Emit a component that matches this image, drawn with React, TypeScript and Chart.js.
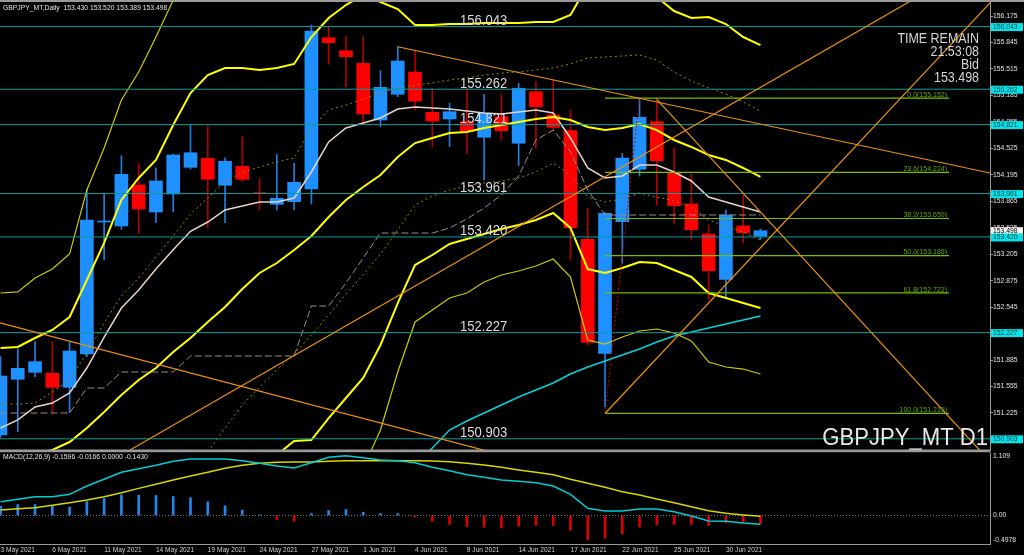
import React, { useEffect, useRef } from "react";
import { Chart, registerables } from "chart.js";

Chart.register(...registerables);

const FONT = "'Liberation Sans', Arial, Helvetica, sans-serif";

// ---------- texts ----------
const SYMBOL_TITLE = "GBPJPY_MT,Daily  153.430 153.520 153.389 153.498";
const MACD_TITLE = "MACD(12,26,9) -0.1596 -0.0166 0.0000 -0.1430";
const WATERMARK = "GBPJPY_MT D1";
const INFO_LINES = ["TIME REMAIN", "21:53:08", "Bid", "153.498"];
const BID = 153.498;

// ---------- categories ----------
const DATE_INDEX = [0, 3, 6, 9, 12, 15, 18, 21, 24, 27, 30, 33, 36, 39, 42];
const DATE_LABELS = [
  "3 May 2021", "6 May 2021", "11 May 2021", "14 May 2021", "19 May 2021",
  "24 May 2021", "27 May 2021", "1 Jun 2021", "4 Jun 2021", "9 Jun 2021",
  "14 Jun 2021", "17 Jun 2021", "22 Jun 2021", "25 Jun 2021", "30 Jun 2021",
];

// ---------- candles ----------
const OPEN = [150.951, 151.645, 151.732, 151.720, 151.545, 151.961, 153.606, 153.557, 154.068, 153.731, 153.956, 154.288, 154.401, 154.064, 154.301, 153.968, 153.827, 153.860, 154.018, 155.904, 155.742, 155.585, 154.878, 155.199, 155.477, 154.974, 154.891, 154.857, 154.663, 154.919, 154.588, 155.231, 154.941, 154.745, 153.391, 151.969, 153.610, 154.264, 154.857, 154.221, 153.831, 153.457, 152.892, 153.557, 153.430];
const HIGH = [151.927, 152.023, 152.114, 152.114, 152.106, 154.018, 153.956, 154.433, 154.342, 154.280, 154.454, 154.825, 154.803, 154.408, 154.670, 154.143, 154.451, 154.338, 156.063, 156.042, 155.917, 155.917, 155.493, 155.792, 155.751, 155.274, 155.086, 155.274, 155.199, 155.202, 155.336, 155.356, 155.377, 155.003, 153.777, 153.730, 154.463, 155.152, 155.136, 154.525, 154.205, 153.569, 153.756, 153.943, 153.520];
const LOW = [150.920, 150.992, 151.677, 151.229, 151.229, 151.927, 153.133, 153.515, 153.457, 153.598, 153.731, 154.267, 153.528, 153.598, 154.109, 153.756, 153.756, 153.756, 153.831, 155.573, 155.293, 154.837, 154.795, 155.169, 155.003, 154.545, 154.545, 154.463, 154.130, 154.629, 154.308, 154.525, 154.753, 153.133, 152.073, 151.300, 153.091, 154.180, 153.818, 153.581, 153.382, 152.634, 152.655, 153.345, 153.389];
const CLOSE = [151.686, 151.782, 151.865, 151.545, 151.998, 153.631, 153.619, 154.201, 153.769, 154.118, 154.442, 154.470, 154.139, 154.363, 154.139, 153.960, 153.902, 154.101, 155.988, 155.842, 155.668, 154.953, 155.286, 155.614, 155.115, 154.866, 154.982, 154.732, 154.962, 154.745, 155.274, 155.044, 154.787, 153.535, 152.106, 153.715, 154.404, 154.912, 154.371, 153.810, 153.510, 152.999, 153.694, 153.473, 153.498];

// ---------- indicators ----------
const MA_FAST = [151.038, 151.138, 151.300, 151.349, 151.474, 151.786, 152.172, 152.534, 152.758, 153.020, 153.260, 153.490, 153.606, 153.756, 153.806, 153.856, 153.856, 153.906, 154.230, 154.604, 154.778, 154.841, 154.903, 155.015, 155.040, 155.028, 155.015, 154.990, 154.965, 154.953, 154.978, 155.003, 154.965, 154.654, 154.280, 154.155, 154.180, 154.317, 154.317, 154.230, 154.118, 153.918, 153.856, 153.793, 153.731];
const BB_MID = [150.664, 150.689, 150.714, 150.764, 150.863, 151.038, 151.237, 151.449, 151.636, 151.786, 151.985, 152.160, 152.360, 152.547, 152.771, 152.971, 153.095, 153.257, 153.432, 153.669, 153.881, 154.043, 154.192, 154.417, 154.591, 154.654, 154.716, 154.729, 154.778, 154.816, 154.853, 154.891, 154.916, 154.878, 154.791, 154.753, 154.778, 154.828, 154.753, 154.629, 154.542, 154.442, 154.380, 154.280, 154.168];
const BB_UP2 = [152.035, 152.048, 152.160, 152.260, 152.422, 152.883, 153.345, 153.881, 154.155, 154.380, 154.816, 155.215, 155.439, 155.527, 155.527, 155.502, 155.527, 155.577, 155.913, 156.150, 156.312, 156.437, 156.350, 156.262, 156.063, 156.063, 156.075, 156.075, 156.088, 156.088, 156.088, 156.100, 156.100, 156.188, 156.562, 156.537, 156.524, 156.549, 156.412, 156.237, 156.150, 156.163, 156.075, 155.913, 155.813];
const BB_LO2 = [null, null, null, null, null, null, null, null, null, null, null, null, null, null, null, 150.452, 150.701, 150.876, 150.888, 151.162, 151.412, 151.661, 152.073, 152.596, 153.070, 153.195, 153.332, 153.394, 153.457, 153.519, 153.569, 153.631, 153.719, 153.532, 153.020, 152.971, 153.033, 153.108, 153.095, 153.008, 152.921, 152.721, 152.659, 152.596, 152.534];
const BB_UP3 = [152.721, 152.734, 152.908, 153.020, 153.207, 154.005, 154.529, 155.128, 155.477, 155.913, 156.374, 156.873, 157.247, null, null, null, null, null, null, null, null, null, null, null, null, null, null, null, null, null, null, null, null, null, null, null, null, null, null, null, null, null, null, null, null];
const BB_LO3 = [null, null, null, null, null, null, null, null, null, null, null, null, null, null, null, null, null, null, null, null, 150.140, 150.539, 151.013, 151.736, 152.360, 152.509, 152.659, 152.721, 152.858, 152.946, 152.995, 153.058, 153.145, 152.921, 152.135, 152.085, 152.172, 152.247, 152.272, 152.222, 152.123, 151.861, 151.798, 151.773, 151.711];
const BB_UP1 = [151.337, 151.337, 151.349, 151.487, 151.636, 151.973, 152.347, 152.684, 152.908, 153.170, 153.432, 153.706, 153.906, 154.105, 154.230, 154.292, 154.355, 154.404, 154.778, 155.003, 155.065, 155.140, 155.215, 155.277, 155.315, 155.340, 155.377, 155.402, 155.439, 155.464, 155.477, 155.502, 155.527, 155.577, 155.651, 155.664, 155.676, 155.689, 155.626, 155.477, 155.365, 155.277, 155.202, 155.103, 154.990];
const BB_LO1 = [null, null, null, null, null, null, null, null, null, null, null, null, 150.739, 151.038, 151.325, 151.549, 151.761, 151.961, 152.197, 152.447, 152.709, 152.946, 153.207, 153.507, 153.818, 153.931, 154.005, 154.055, 154.093, 154.118, 154.155, 154.230, 154.342, 154.192, 153.918, 153.856, 153.893, 153.968, 153.918, 153.868, 153.793, 153.631, 153.557, 153.482, 153.382];
const KIJUN = [151.225, 151.225, 151.225, 151.225, 151.225, 151.537, 151.537, 151.736, 151.736, 151.736, 151.736, 151.936, 151.936, 151.936, 151.936, 151.936, 151.936, 151.936, 152.559, 152.559, 152.846, 153.158, 153.469, 153.469, 153.469, 153.469, 153.532, 153.644, 153.781, 153.943, 154.180, 154.629, 154.753, 154.480, 154.005, 153.694, 153.694, 153.694, 153.694, 153.694, 153.694, 153.694, 153.694, 153.694, 153.694];
const MA_SLOW = [null, null, null, null, null, null, null, null, null, null, null, null, null, null, null, null, null, null, null, null, null, null, null, null, 150.576, 150.788, 151.013, 151.125, 151.225, 151.325, 151.424, 151.512, 151.599, 151.711, 151.798, 151.873, 151.948, 152.023, 152.110, 152.185, 152.235, 152.285, 152.335, 152.384, 152.434];

// ---------- objects ----------
const LEVELS = [156.043, 155.262, 154.821, 153.961, 153.420, 152.227, 150.903];
const FIB_RATIOS = [0.0, 23.6, 38.2, 50.0, 61.8, 100.0];
const FIB_PRICES = [155.152, 154.224, 153.650, 153.186, 152.722, 151.219];
const FIB_FROM = 35;
const FIB_TO = 54.92;
const FIB_ANCHOR_HIGH_INDEX = 37;
const TREND_X1 = [-0.03, 23, 7.5, 35, 38];
const TREND_Y1 = [152.35, 155.792, 150.764, 151.219, 155.136];
const TREND_X2 = [27.94, 57.29, 52.49, 44.96, 44.96];
const TREND_Y2 = [150.764, 154.217, 156.337, 153.507, 153.507];
const PRICE_TICKS = [156.175, 155.845, 155.515, 155.185, 154.855, 154.525, 154.195, 153.865, 153.535, 153.205, 152.875, 152.545, 152.215, 151.885, 151.555, 151.225, 150.895];

// ---------- MACD ----------
const MACD_HIST = [0.163, 0.192, 0.192, 0.163, 0.145, 0.244, 0.297, 0.361, 0.355, 0.349, 0.332, 0.309, 0.239, 0.169, 0.093, 0.012, -0.070, -0.099, 0.035, 0.087, 0.105, 0.058, 0.035, 0.035, -0.023, -0.099, -0.157, -0.198, -0.204, -0.221, -0.186, -0.175, -0.175, -0.256, -0.419, -0.396, -0.320, -0.204, -0.163, -0.157, -0.157, -0.175, -0.128, -0.128, -0.143];
const MACD_MAIN = [0.241, 0.283, 0.328, 0.328, 0.370, 0.515, 0.632, 0.754, 0.817, 0.876, 0.946, 0.986, 0.986, 0.986, 0.956, 0.911, 0.864, 0.829, 0.922, 1.016, 1.044, 1.009, 0.969, 0.956, 0.922, 0.841, 0.782, 0.712, 0.667, 0.620, 0.597, 0.573, 0.515, 0.370, 0.126, 0.079, 0.079, 0.113, 0.113, 0.067, -0.009, -0.096, -0.101, -0.131, -0.154];
const MACD_SIGNAL = [0.096, 0.119, 0.137, 0.178, 0.224, 0.271, 0.329, 0.399, 0.474, 0.544, 0.620, 0.690, 0.754, 0.824, 0.876, 0.911, 0.928, 0.934, 0.934, 0.946, 0.957, 0.957, 0.957, 0.957, 0.957, 0.952, 0.940, 0.911, 0.882, 0.841, 0.795, 0.754, 0.713, 0.632, 0.562, 0.492, 0.416, 0.358, 0.288, 0.224, 0.154, 0.084, 0.038, 0.009, -0.014];
const MACD_AXIS_TICKS = [1.109, 0, -0.4978];
const MACD_AXIS_LABELS = ["1.109", "0.00", "-0.4978"];

// ---------- view ----------
const X_MIN = -0.029;
const X_MAX = 57.29;
const Y_MIN = 150.7635;
const Y_MAX = 156.3496;
const LEVEL_LABEL_X = 27.97;

const BULL = "#1e90ff";
const BEAR = "#ff0000";
const BULL_WICK = "#1f7fe0";
const BEAR_WICK = "#b00000";
const FRAME = "#9a9a9a";

function pts(arr: (number | null)[]) {
  return arr.map((v, i) => ({ x: i, y: v }));
}

function lineDs(data: any[], color: string, width: number, order: number, extra: any = {}) {
  return {
    type: "line",
    data,
    borderColor: color,
    backgroundColor: color,
    borderWidth: width,
    pointRadius: 0,
    pointHoverRadius: 0,
    fill: false,
    tension: 0,
    spanGaps: false,
    clip: 0,
    order,
    ...extra,
  };
}

function drawText(ctx: any, text: string, x: number, y: number, font: string, sx: number, align: string, color: string) {
  ctx.save();
  ctx.translate(x, y);
  ctx.scale(sx, 1);
  ctx.font = font;
  ctx.textAlign = align;
  ctx.textBaseline = "alphabetic";
  ctx.fillStyle = color;
  ctx.fillText(text, 0, 0);
  ctx.restore();
}

const mainOverlay = {
  id: "mainOverlay",
  beforeDraw(chart: any) {
    const { ctx, width, height } = chart;
    ctx.save();
    ctx.fillStyle = "#000";
    ctx.fillRect(0, 0, width, height);
    ctx.restore();
  },
  afterDatasetsDraw(chart: any) {
    const { ctx, chartArea } = chart;
    const x = chart.scales.x;
    const y = chart.scales.y;
    ctx.save();
    ctx.beginPath();
    ctx.rect(chartArea.left, chartArea.top, chartArea.right - chartArea.left, chartArea.bottom - chartArea.top);
    ctx.clip();
    for (const v of LEVELS) {
      drawText(ctx, v.toFixed(3), x.getPixelForValue(LEVEL_LABEL_X), y.getPixelForValue(v) - 1.5, `15px ${FONT}`, 0.87, "center", "#dcdcdc");
    }
    const fx = x.getPixelForValue(FIB_TO) - 2;
    FIB_RATIOS.forEach((r, k) => {
      drawText(ctx, `${r.toFixed(1)}(${FIB_PRICES[k].toFixed(3)})`, fx, y.getPixelForValue(FIB_PRICES[k]) - 1.3, `7px ${FONT}`, 1, "right", "#66a800");
    });
    INFO_LINES.forEach((t, k) => {
      drawText(ctx, t, 979, 42.7 + k * 13, `15px ${FONT}`, 0.83, "right", "#d4d4d4");
    });
    drawText(ctx, WATERMARK, 988, 445, `23px ${FONT}`, 0.96, "right", "#e8e8e8");
    ctx.restore();
  },
  afterDraw(chart: any) {
    const { ctx, chartArea } = chart;
    const y = chart.scales.y;
    ctx.save();
    ctx.fillStyle = FRAME;
    ctx.fillRect(0, 0, chart.width, 2);
    ctx.fillRect(0, chartArea.bottom - 0.5, chartArea.right, 1.5);
    ctx.font = `6.8px ${FONT}`;
    ctx.textBaseline = "middle";
    ctx.textAlign = "left";
    const bx = chartArea.right + 1;
    const by = y.getPixelForValue(BID);
    ctx.fillStyle = "#f4f4f4";
    ctx.fillRect(bx, by - 3.5, 32, 8);
    ctx.fillStyle = "#000";
    ctx.fillText(BID.toFixed(3), bx + 2, by + 0.5);
    for (const v of LEVELS) {
      const py = y.getPixelForValue(v);
      ctx.fillStyle = "#00e4ec";
      ctx.fillRect(bx, py - 3.5, 32, 8);
      ctx.fillStyle = "#0a3a3a";
      ctx.fillText(v.toFixed(3), bx + 2, py + 0.5);
    }
    ctx.fillStyle = "#e0e0e0";
    ctx.fillText(SYMBOL_TITLE, 3, 8);
    ctx.restore();
  },
};

const macdOverlay = {
  id: "macdOverlay",
  beforeDraw(chart: any) {
    const { ctx, width, height } = chart;
    ctx.save();
    ctx.fillStyle = "#000";
    ctx.fillRect(0, 0, width, height);
    ctx.restore();
  },
  afterDraw(chart: any) {
    const { ctx, chartArea } = chart;
    const y = chart.scales.y;
    ctx.save();
    ctx.fillStyle = FRAME;
    ctx.fillRect(0, 0, chartArea.right, 1.2);
    ctx.font = `6.8px ${FONT}`;
    ctx.textBaseline = "middle";
    ctx.textAlign = "left";
    ctx.fillStyle = "#e0e0e0";
    ctx.fillText(MACD_TITLE, 3, 6);
    MACD_AXIS_TICKS.forEach((v, k) => {
      const py = Math.min(Math.max(y.getPixelForValue(v), chartArea.top + 3.7), chartArea.bottom - 3.7);
      ctx.fillText(MACD_AXIS_LABELS[k], chartArea.right + 3, py);
    });
    ctx.restore();
  },
};

export default function App() {
  const mainRef = useRef<HTMLCanvasElement>(null);
  const macdRef = useRef<HTMLCanvasElement>(null);

  useEffect(() => {
    document.body.style.margin = "0";
    document.body.style.background = "#000";
    const idx = OPEN.map((_, i) => i);
    const up = idx.map((i) => CLOSE[i] >= OPEN[i]);

    const trendDs = TREND_X1.map((x1, k) => {
      const slope = (TREND_Y2[k] - TREND_Y1[k]) / (TREND_X2[k] - x1);
      return lineDs(
        [
          { x: x1, y: TREND_Y1[k] },
          { x: X_MAX, y: TREND_Y1[k] + slope * (X_MAX - x1) },
        ],
        "#eb930c", 1.2, 1
      );
    });
    const levelDs = LEVELS.map((v) => lineDs([{ x: X_MIN, y: v }, { x: X_MAX, y: v }], "#0a9c9c", 1, 3));
    const fibDs = FIB_PRICES.map((v) => lineDs([{ x: FIB_FROM, y: v }, { x: FIB_TO, y: v }], "#74be00", 1.2, 2));
    const fibAnchor = lineDs(
      [{ x: FIB_FROM, y: FIB_PRICES[FIB_PRICES.length - 1] }, { x: FIB_ANCHOR_HIGH_INDEX, y: FIB_PRICES[0] }],
      "#c80000", 1, 1, { borderDash: [2, 2] }
    );

    const main = new Chart(mainRef.current as HTMLCanvasElement, {
      type: "bar",
      data: {
        datasets: [
          ...trendDs,
          fibAnchor,
          ...fibDs,
          ...levelDs,
          lineDs(pts(BB_UP2), "#ffff00", 2, 4),
          lineDs(pts(BB_MID), "#ffff00", 2, 4),
          lineDs(pts(BB_LO2), "#ffff00", 2, 4),
          lineDs(pts(BB_UP3), "#cccc00", 1.2, 5),
          lineDs(pts(BB_LO3), "#cccc00", 1.2, 5),
          lineDs(pts(BB_UP1), "#8c8c00", 1, 5, { borderDash: [2, 3] }),
          lineDs(pts(BB_LO1), "#8c8c00", 1, 5, { borderDash: [2, 3] }),
          lineDs(pts(MA_FAST), "#e8d4c8", 1.5, 5),
          lineDs(pts(KIJUN), "#978d84", 1, 5, { borderDash: [7, 3] }),
          lineDs(pts(MA_SLOW), "#00d4dc", 1.5, 5),
          {
            type: "bar",
            data: idx.map((i) => ({ x: i, y: [OPEN[i], CLOSE[i]] })),
            backgroundColor: up.map((u) => (u ? BULL : BEAR)),
            borderWidth: 0,
            barThickness: 13,
            minBarLength: 1,
            grouped: false,
            order: 8,
          },
          {
            type: "bar",
            data: idx.map((i) => ({ x: i, y: [LOW[i], HIGH[i]] })),
            backgroundColor: up.map((u) => (u ? BULL_WICK : BEAR_WICK)),
            borderWidth: 0,
            barThickness: 1,
            grouped: false,
            order: 9,
          },
        ] as any,
      },
      options: {
        responsive: false,
        devicePixelRatio: 1,
        animation: false,
        events: [],
        layout: { padding: { top: 2, bottom: 1, left: 0, right: 0 } },
        plugins: { legend: { display: false }, tooltip: { enabled: false } },
        scales: {
          x: { type: "linear", min: X_MIN, max: X_MAX, display: false, offset: false },
          y: {
            type: "linear",
            position: "right",
            min: Y_MIN,
            max: Y_MAX,
            afterBuildTicks: (s: any) => {
              s.ticks = PRICE_TICKS.map((v) => ({ value: v }));
            },
            afterFit: (s: any) => {
              s.width = 34;
              s.paddingTop = 0;
              s.paddingBottom = 0;
            },
            ticks: {
              autoSkip: false,
              color: "#e0e0e0",
              padding: 0,
              font: { family: FONT, size: 6.8 },
              callback: (v: any) => Number(v).toFixed(3),
            },
            grid: { drawOnChartArea: false, drawTicks: true, tickLength: 3, color: FRAME },
            border: { display: true, color: FRAME, width: 1 },
          },
        },
      } as any,
      plugins: [mainOverlay],
    });

    const macd = new Chart(macdRef.current as HTMLCanvasElement, {
      type: "bar",
      data: {
        datasets: [
          lineDs(pts(MACD_MAIN), "#00cdd6", 1.5, 1),
          lineDs(pts(MACD_SIGNAL), "#d6d600", 1.5, 2),
          lineDs([{ x: X_MIN, y: 0 }, { x: X_MAX, y: 0 }], "#7a7a7a", 1, 3, { borderDash: [1, 2] }),
          {
            type: "bar",
            data: pts(MACD_HIST),
            backgroundColor: MACD_HIST.map((v) => (v >= 0 ? "#1e88ee" : "#dd0000")),
            borderWidth: 0,
            barThickness: 2,
            grouped: false,
            order: 4,
          },
        ] as any,
      },
      options: {
        responsive: false,
        devicePixelRatio: 1,
        animation: false,
        events: [],
        layout: { padding: { top: 1, bottom: 0, left: 0, right: 0 } },
        plugins: { legend: { display: false }, tooltip: { enabled: false } },
        scales: {
          x: {
            type: "linear",
            min: X_MIN,
            max: X_MAX,
            offset: false,
            position: "bottom",
            afterBuildTicks: (s: any) => {
              s.ticks = DATE_INDEX.map((v) => ({ value: v }));
            },
            afterFit: (s: any) => {
              s.height = 11;
              s.paddingLeft = 0;
              s.paddingRight = 0;
            },
            ticks: {
              autoSkip: false,
              maxRotation: 0,
              minRotation: 0,
              align: "start",
              padding: 2,
              color: "#d0d0d0",
              font: { family: FONT, size: 6.6 },
              callback: (v: any) => {
                const k = DATE_INDEX.indexOf(Number(v));
                return k >= 0 ? DATE_LABELS[k] : "";
              },
            },
            grid: { drawOnChartArea: false, drawTicks: false, color: FRAME },
            border: { display: true, color: FRAME, width: 1 },
          },
          y: {
            type: "linear",
            position: "right",
            min: -0.4978,
            max: 1.109,
            afterFit: (s: any) => {
              s.width = 34;
              s.paddingTop = 0;
              s.paddingBottom = 0;
            },
            ticks: { display: false },
            grid: { drawOnChartArea: false, drawTicks: false, color: FRAME },
            border: { display: true, color: FRAME, width: 1 },
          },
        },
      } as any,
      plugins: [macdOverlay],
    });

    return () => {
      main.destroy();
      macd.destroy();
    };
  }, []);

  return (
    <div style={{ position: "absolute", left: 0, top: 0, width: 1024, height: 555, background: "#000", overflow: "hidden" }}>
      <canvas ref={mainRef} width={1024} height={451} style={{ position: "absolute", left: 0, top: 0, width: 1024, height: 451 }} />
      <canvas ref={macdRef} width={1024} height={104} style={{ position: "absolute", left: 0, top: 451, width: 1024, height: 104 }} />
    </div>
  );
}
